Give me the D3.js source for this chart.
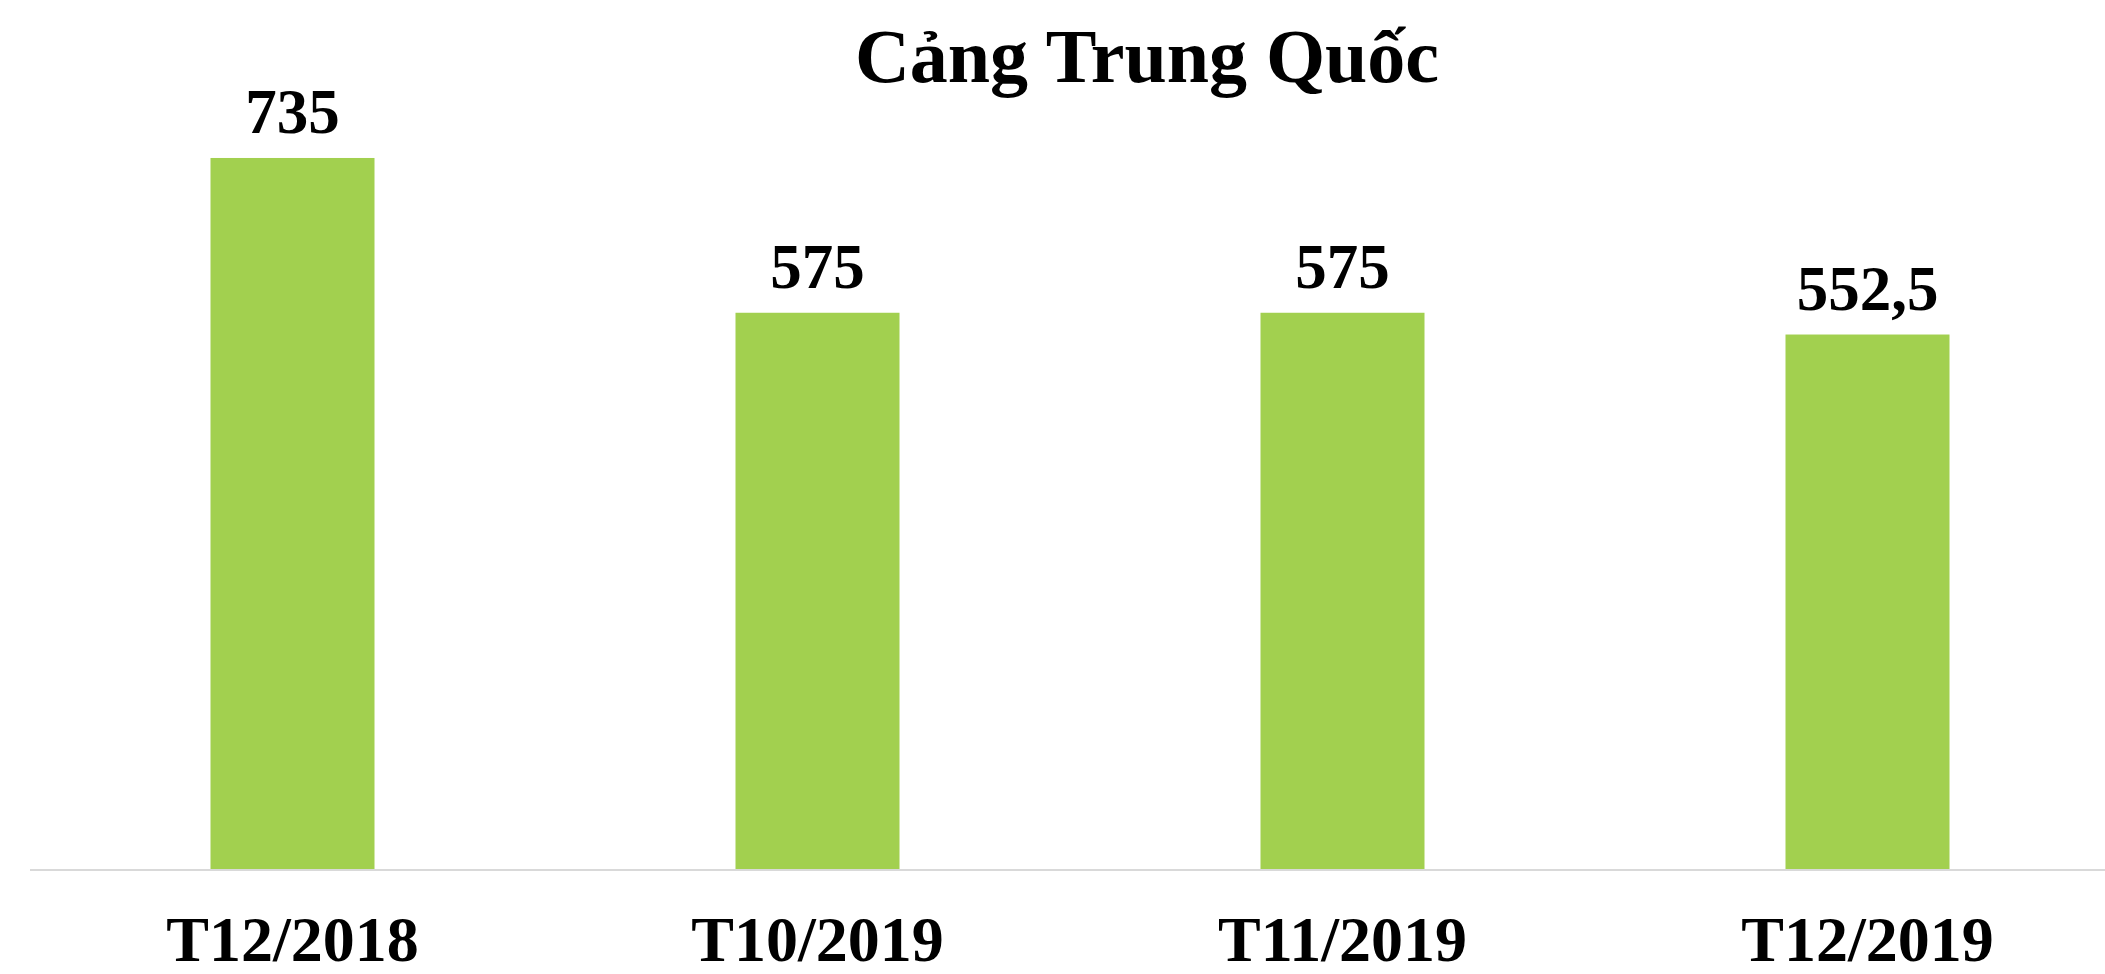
<!DOCTYPE html>
<html><head><meta charset="utf-8">
<script src="https://cdn.jsdelivr.net/npm/d3@7"></script>
<style>html,body{margin:0;padding:0;background:#fff;overflow:hidden}</style>
</head><body>
<svg id="chart" width="2105" height="974"></svg>
<script>
const title = "Cảng Trung Quốc";
const categories = ["T12/2018", "T10/2019", "T11/2019", "T12/2019"];
const values = [735, 575, 575, 552.5];
const valueLabels = ["735", "575", "575", "552,5"];

const W = 2105, H = 974;
const svg = d3.select("#chart");
const font = "'Liberation Serif','Times New Roman',serif";

const x = d3.scaleBand().domain(categories).range([30, 2130])
  .paddingInner(0.6876).paddingOuter(0.3438);
const y = d3.scaleLinear().domain([0, 800]).range([869, 95.1]);

svg.append("text").attr("x", 1147).attr("y", 82).attr("text-anchor", "middle")
  .attr("font-family", font).attr("font-weight", "bold").attr("font-size", 76)
  .attr("fill", "#000").text(title);

svg.selectAll("rect.bar").data(values).join("rect").attr("class", "bar")
  .attr("x", (d, i) => x(categories[i])).attr("width", x.bandwidth())
  .attr("y", d => y(d)).attr("height", d => y(0) - y(d))
  .attr("fill", "#a2d04f");

svg.append("line").attr("x1", 30).attr("x2", W).attr("y1", 870).attr("y2", 870)
  .attr("stroke", "#d9d9d9").attr("stroke-width", 2);

svg.selectAll("text.val").data(values).join("text").attr("class", "val")
  .attr("x", (d, i) => x(categories[i]) + x.bandwidth() / 2)
  .attr("y", d => y(d) - 25).attr("text-anchor", "middle")
  .attr("font-family", font).attr("font-weight", "bold").attr("font-size", 63)
  .attr("fill", "#000").text((d, i) => valueLabels[i]);

svg.selectAll("text.cat").data(categories).join("text").attr("class", "cat")
  .attr("x", d => x(d) + x.bandwidth() / 2).attr("y", 961)
  .attr("text-anchor", "middle")
  .attr("font-family", font).attr("font-weight", "bold").attr("font-size", 64)
  .attr("fill", "#000").text(d => d);
</script>
</body></html>
